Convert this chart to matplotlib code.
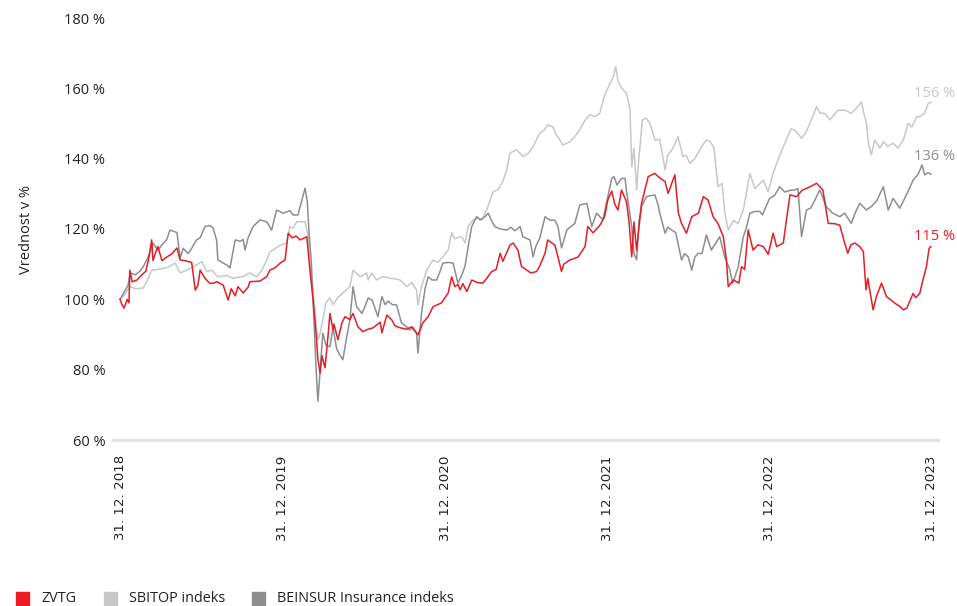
import matplotlib
matplotlib.use('Agg')
import matplotlib.pyplot as plt
from matplotlib.patches import Rectangle
import pandas as pd

# data: days since 31.12.2018, value in % of start
zvtg_days = [0, 4, 9, 16, 20, 22, 27, 38, 49, 58, 65, 71, 74, 79, 85, 94, 105, 117, 128, 135,
             146, 161, 169, 175, 180, 191, 202, 209, 218, 232, 243, 250, 259, 265, 277, 288, 292, 315, 330, 337,
             349, 360, 371, 378, 387, 396, 405, 420, 427, 434, 441, 445, 450, 454, 461, 468, 472, 479, 481, 490,
             499, 506, 517, 524, 535, 546, 558, 569, 585, 589, 600, 611, 618, 630, 645, 656, 663, 670, 681, 693,
             704, 723, 738, 746, 753, 760, 765, 771, 780, 791, 803, 816, 825, 836, 846, 855, 861, 877, 884, 895,
             903, 915, 924, 937, 944, 956, 962, 978, 985, 993, 998, 1012, 1030, 1046, 1052, 1064, 1079, 1090, 1097, 1106,
             1113, 1120, 1128, 1139, 1145, 1151, 1156, 1162, 1173, 1188, 1203, 1214, 1226, 1233, 1241, 1248, 1256, 1263, 1274, 1286,
             1301, 1312, 1323, 1334, 1345, 1357, 1364, 1368, 1380, 1392, 1398, 1405, 1413, 1424, 1435, 1447, 1458, 1469, 1477, 1492,
             1499, 1507, 1522, 1534, 1552, 1567, 1581, 1593, 1608, 1619, 1630, 1637, 1644, 1653, 1664, 1672, 1678, 1682, 1694, 1702,
             1713, 1724, 1732, 1743, 1754, 1762, 1770, 1784, 1790, 1799, 1806, 1814, 1820, 1824]
zvtg = [100, 98.5, 97.5, 100, 99, 108.3, 105, 105.5, 107, 108, 112, 116.9, 111, 113, 115, 111, 112, 113, 114.6, 111.2,
        111, 110.5, 102.6, 104, 108.3, 106, 104.5, 104.6, 105, 104, 99.8, 103, 101, 103.6, 101.8, 103.5, 105, 105.2, 106.5, 108.3,
        109, 110.3, 111.2, 118.8, 117.5, 118, 116.9, 117.8, 108.3, 100, 90, 83, 79, 84, 80.5, 90, 96, 91.3, 93, 88.5,
        93.3, 95.1, 94.2, 96, 92.2, 90.8, 91.5, 91.9, 93.5, 90.5, 95.5, 94.2, 92.5, 91.9, 91.5, 92.2, 91, 89.9, 93.3, 95.1,
        97.9, 99, 101.8, 106.4, 103.6, 104.2, 102.7, 104.5, 102.2, 105.5, 104.8, 104.6, 106, 107.9, 108.5, 113.1, 110.8, 115.4, 116, 114,
        109.3, 108.3, 107.5, 107.9, 109.5, 113.1, 116.9, 115.4, 112.1, 107.9, 110, 111.2, 112, 115, 120.7, 118.9, 121, 123.5, 128.2, 130.8,
        127, 125.4, 131.1, 127.8, 122, 112.1, 122, 114, 127.3, 134.9, 135.8, 134.5, 133.5, 130.1, 133, 135.4, 124.5, 121.6, 118.8, 123.5,
        124.5, 129.2, 128.2, 123.5, 121.6, 117.8, 111.2, 103.6, 105.5, 104.6, 109.3, 108.5, 119.7, 114, 115.5, 115, 112.8, 118.8, 115, 116,
        122.6, 129.7, 129.2, 131, 132, 133, 131.1, 121.6, 121.5, 121.1, 116, 113.1, 115.5, 116, 115, 113.6, 102.7, 106, 97, 101,
        104.6, 100.8, 100, 98.9, 98, 97, 97.5, 101.7, 100.5, 101.7, 105.5, 109.3, 114.5, 115]

sbitop_days = [0, 11, 22, 36, 52, 63, 71, 85, 105, 124, 135, 150, 161, 184, 195, 206, 220, 240, 254, 277,
               292, 307, 319, 330, 337, 360, 375, 382, 389, 397, 416, 423, 427, 434, 441, 445, 450, 456, 463, 472,
               479, 490, 501, 517, 524, 540, 555, 558, 566, 577, 591, 607, 618, 630, 645, 656, 667, 670, 678, 690,
               704, 715, 726, 738, 746, 753, 765, 771, 776, 783, 794, 805, 814, 828, 839, 850, 861, 870, 877, 892,
               900, 906, 918, 929, 944, 953, 962, 974, 980, 989, 996, 1012, 1023, 1034, 1046, 1057, 1068, 1079, 1090, 1102,
               1109, 1115, 1120, 1129, 1139, 1147, 1151, 1156, 1162, 1167, 1175, 1183, 1192, 1203, 1214, 1226, 1232, 1241, 1248, 1255,
               1266, 1273, 1282, 1293, 1308, 1319, 1327, 1336, 1345, 1354, 1360, 1368, 1380, 1390, 1402, 1417, 1428, 1447, 1458, 1469,
               1477, 1492, 1510, 1520, 1533, 1543, 1552, 1567, 1574, 1585, 1597, 1606, 1615, 1630, 1645, 1657, 1668, 1673, 1679, 1684,
               1690, 1698, 1709, 1717, 1727, 1739, 1750, 1762, 1773, 1781, 1792, 1799, 1810, 1818, 1824]
sbitop = [100, 101.5, 103.6, 103, 103.2, 106, 108.3, 108.5, 109, 110.3, 107.5, 108.3, 109, 110.7, 107.9, 108.3, 106.4, 106.8, 106, 106.5,
          107.5, 106.4, 108.3, 111.2, 113.5, 115.4, 116, 120.7, 120.2, 122, 122.1, 118, 110.7, 103, 93, 88.4, 90.4, 94, 99, 100.4,
          98.5, 100.5, 101.8, 103.6, 108.3, 106.4, 107.5, 105.5, 107.5, 105.5, 106.5, 106, 105.8, 105.5, 103.6, 104.8, 102.7, 98.4, 103.6, 108.3,
          111.2, 110.5, 112.1, 114, 118.9, 117.2, 117.8, 117.4, 116, 120.7, 122.6, 123.1, 122.5, 126.5, 130.6, 131.2, 133.5, 137, 141.6, 142.5,
          141.5, 140.6, 141.5, 143.4, 147.3, 148, 149.6, 149, 147, 145.3, 143.9, 144.8, 146.3, 148.2, 151, 152.5, 152, 152.9, 158, 161.4,
          163, 166.2, 162, 160, 158.6, 154.3, 137.7, 143, 131.1, 140, 151, 151.5, 150.1, 145.3, 145.5, 136.8, 141, 142.5, 144, 146.3,
          140.6, 141, 138.7, 140, 143.4, 145.3, 145, 143, 132, 133, 125, 119.7, 122.5, 121.5, 125.4, 135.8, 131.5, 133.9, 130.6, 135.8,
          138.7, 143.4, 148.6, 147.8, 145.8, 147.5, 150.1, 154.8, 153, 152.9, 151, 152.5, 153.8, 153.8, 152.9, 154.5, 156.2, 153, 150.1, 144,
          141.1, 145.3, 143, 144.8, 143.5, 144.4, 143, 145.3, 150.1, 149, 151.9, 152, 152.9, 155.7, 156]

beinsur_days = [0, 9, 18, 22, 34, 45, 52, 63, 74, 85, 94, 105, 112, 128, 135, 142, 153, 161, 172, 180,
                191, 202, 209, 217, 220, 232, 243, 247, 259, 270, 277, 281, 288, 299, 315, 330, 341, 352, 367, 382,
                389, 400, 409, 416, 421, 425, 430, 434, 441, 445, 450, 456, 463, 472, 479, 487, 495, 501, 508, 517,
                524, 532, 544, 551, 558, 567, 580, 589, 596, 603, 612, 622, 633, 641, 652, 659, 667, 670, 678, 686,
                693, 702, 712, 720, 726, 738, 749, 760, 769, 776, 783, 791, 802, 810, 821, 828, 837, 843, 855, 870,
                879, 888, 900, 906, 922, 929, 935, 944, 956, 967, 978, 985, 993, 1005, 1012, 1023, 1034, 1050, 1061, 1072,
                1086, 1094, 1106, 1111, 1118, 1128, 1136, 1139, 1145, 1151, 1156, 1162, 1167, 1173, 1184, 1194, 1203, 1210, 1214, 1226,
                1232, 1241, 1250, 1263, 1270, 1278, 1286, 1293, 1301, 1309, 1319, 1330, 1340, 1349, 1360, 1372, 1378, 1390, 1402, 1408,
                1417, 1428, 1439, 1445, 1461, 1472, 1484, 1495, 1507, 1518, 1525, 1533, 1544, 1554, 1563, 1574, 1589, 1603, 1619, 1630,
                1645, 1655, 1664, 1679, 1691, 1702, 1717, 1728, 1739, 1754, 1769, 1784, 1795, 1804, 1810, 1817, 1824]
beinsur = [100, 102, 104, 107.5, 107, 108, 109.3, 112, 116, 114, 115.5, 117, 119.7, 119, 111.7, 114.5, 113, 114.5, 116.9, 117.5,
           120.7, 121, 120.3, 116.9, 111.2, 110.3, 109.5, 108.9, 116.9, 116.5, 117, 114, 117.5, 120.7, 122.6, 122, 119.7, 125.4, 124.5, 125.2,
           124, 124, 128.2, 131.6, 128, 118.9, 111, 100, 80, 71, 80, 90.4, 87, 86.5, 92, 86, 84, 82.8, 88, 94.2,
           103.6, 97.9, 96, 98, 100.4, 99.8, 95.1, 100.8, 98.5, 99.5, 98.5, 98.4, 93.3, 92.5, 91.3, 92, 90.4, 84.7, 96, 103,
           106.4, 105.5, 105.5, 108, 110.3, 110.5, 110.3, 104.6, 107, 109.5, 115, 120.7, 123.5, 122.6, 123.5, 124.5, 122, 120.7, 120, 119.7,
           120.5, 119.5, 120.7, 117.8, 116.9, 112.1, 115, 117.4, 123.5, 122.5, 122.5, 120.7, 114.6, 119.7, 120.5, 121.6, 126.8, 127.3, 120.7, 124.5,
           122.6, 127.3, 134.4, 134.9, 132.5, 134.4, 134.4, 131.1, 126, 120.7, 113, 111.2, 122, 126.3, 129.2, 129.5, 129.7, 127, 124.5, 118.8,
           120.5, 119.7, 119, 111.2, 113, 112.1, 108.3, 112, 113.1, 113, 118.3, 114, 116, 117.8, 112.1, 108.3, 104.5, 109, 117.8, 120,
           124.5, 125, 125, 124, 128.7, 129.5, 132, 130.5, 131, 131.1, 131.5, 117.8, 125.4, 126, 128.2, 131.1, 126.3, 124.5, 123.5, 124.5,
           121.6, 125, 127.3, 125.4, 126.5, 128, 132, 125.4, 128.7, 125.9, 129.7, 133.9, 135.5, 138.2, 135.4, 136, 135.6]

start = pd.Timestamp('2018-12-31')
tick_dates = pd.to_datetime(['2018-12-31', '2019-12-31', '2020-12-31', '2021-12-31', '2022-12-31', '2023-12-31'])
tick_labels = [d.strftime('%d. %m. %Y') for d in tick_dates]
y_ticks = [60, 80, 100, 120, 140, 160, 180]

names = ['ZVTG', 'SBITOP indeks', 'BEINSUR Insurance indeks']
colors = ['#e31e26', '#c8c8c8', '#8e8e90']

def to_dates(days):
    return start + pd.to_timedelta(days, unit='D')

W, H = 957, 606
fig = plt.figure(figsize=(W / 100, H / 100), dpi=100)
ax = fig.add_axes([113 / W, 1 - 440 / H, 825 / W, 422 / H])

ax.plot(to_dates(sbitop_days), sbitop, color=colors[1], lw=1.1, zorder=2)
ax.plot(to_dates(beinsur_days), beinsur, color=colors[2], lw=1.1, zorder=3)
ax.plot(to_dates(zvtg_days), zvtg, color=colors[0], lw=1.1, zorder=4)

ax.set_ylim(60, 180)
ax.set_xlim(start - pd.Timedelta(days=16), tick_dates[-1] + pd.Timedelta(days=14))
ax.set_yticks(y_ticks)
ax.set_yticklabels(['%d %%' % v for v in y_ticks], fontfamily='Open Sans', fontsize=10.5, color='#222222')
ax.set_xticks(tick_dates)
ax.set_xticklabels(tick_labels, rotation=90, fontfamily='DejaVu Sans', fontsize=9.6, color='#222222')
ax.tick_params(axis='both', length=0)
ax.tick_params(axis='y', pad=5.5)
ax.tick_params(axis='x', pad=11)
for s in ['top', 'right', 'left']:
    ax.spines[s].set_visible(False)
ax.spines['bottom'].set_color('#e4e4e4')
ax.spines['bottom'].set_linewidth(2.4)
ax.patch.set_alpha(0)

# end labels
ends = [(sbitop_days, sbitop, colors[1], 6.5),
        (beinsur_days, beinsur, colors[2], 12.5),
        (zvtg_days, zvtg, colors[0], 7.2)]
for days, vals, c, dy in ends:
    ax.annotate('%d %%' % round(vals[-1]), xy=(to_dates(days[-1:])[0], vals[-1]),
                xytext=(-12.5, dy), textcoords='offset points', ha='left', va='center',
                color=c, fontfamily='Open Sans', fontsize=10.5, annotation_clip=False)

fig.text(27 / W, 1 - 230 / H, 'Vrednost v %', rotation=90, ha='center', va='center',
         fontfamily='Open Sans', fontsize=10.5, color='#222222')

# legend
leg_x = [16, 104, 252]
for i in range(3):
    fig.patches.append(Rectangle((leg_x[i] / W, 1 - 605 / H), 13 / W, 13 / H,
                                 transform=fig.transFigure, color=colors[i] if i else '#ed1c24'))
    fig.text((leg_x[i] + 25) / W, 1 - 598.5 / H, names[i], ha='left', va='center',
             fontfamily='Open Sans', fontsize=10.4, color='#222222')

fig.savefig('out.png', dpi=100)
